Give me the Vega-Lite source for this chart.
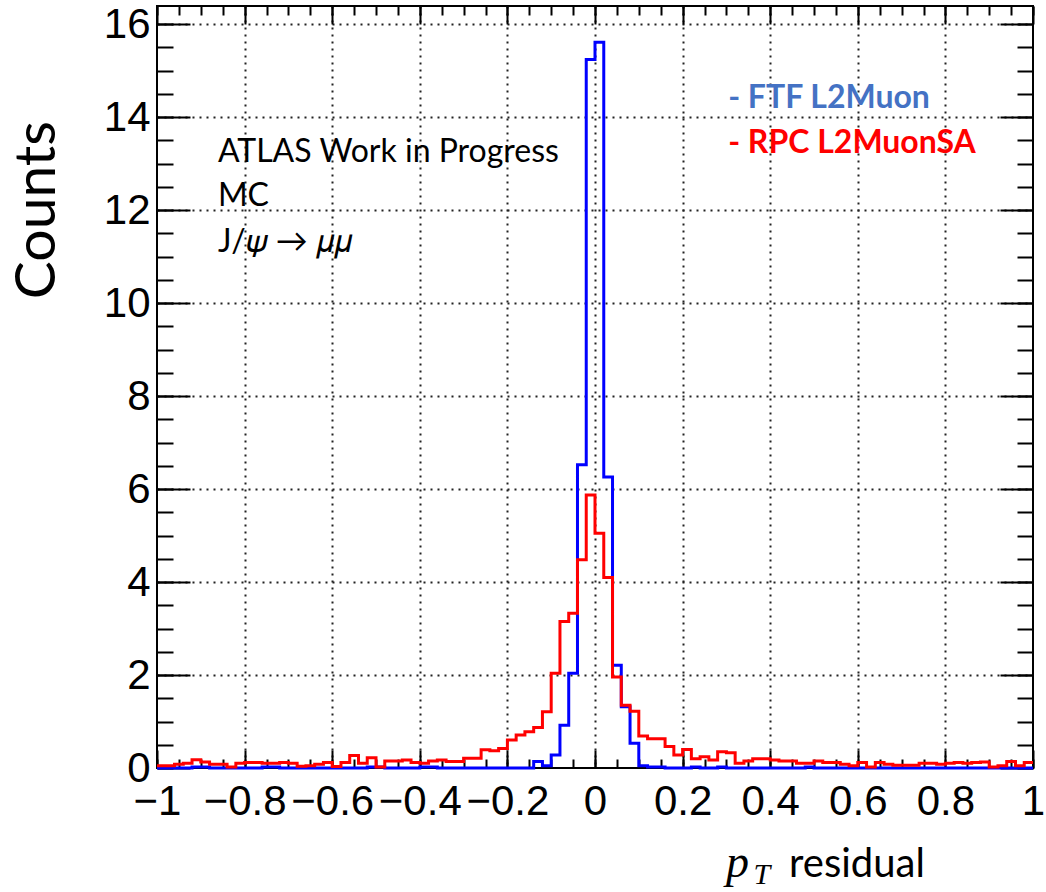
{
  "$schema": "https://vega.github.io/schema/vega-lite/v6.json",
  "width": 876,
  "height": 762,
  "autosize": {"type": "none"},
  "padding": {"left": 157, "top": 6, "right": 13, "bottom": 124},
  "background": "white",
  "config": {
    "view": {"stroke": "black", "strokeWidth": 2},
    "axis": {"domain": false, "labels": false, "grid": false, "tickColor": "black", "tickWidth": 2}
  },
  "datasets": {
    "hist": [
      {"x": -1, "ftf": 0, "rpc": 0.05}, {"x": -0.98, "ftf": 0, "rpc": 0.05}, {"x": -0.96, "ftf": 0, "rpc": 0.08}, {"x": -0.94, "ftf": 0, "rpc": 0.1}, {"x": -0.92, "ftf": 0.02, "rpc": 0.18},
      {"x": -0.9, "ftf": 0.02, "rpc": 0.13}, {"x": -0.88, "ftf": 0, "rpc": 0.08}, {"x": -0.86, "ftf": 0, "rpc": 0.08}, {"x": -0.84, "ftf": 0, "rpc": 0.02}, {"x": -0.82, "ftf": 0, "rpc": 0.1},
      {"x": -0.8, "ftf": 0, "rpc": 0.12}, {"x": -0.78, "ftf": 0, "rpc": 0.12}, {"x": -0.76, "ftf": 0.02, "rpc": 0.1}, {"x": -0.74, "ftf": 0.02, "rpc": 0.1}, {"x": -0.72, "ftf": 0, "rpc": 0.12},
      {"x": -0.7, "ftf": 0, "rpc": 0.1}, {"x": -0.68, "ftf": 0, "rpc": 0.04}, {"x": -0.66, "ftf": 0, "rpc": 0.05}, {"x": -0.64, "ftf": 0, "rpc": 0.08}, {"x": -0.62, "ftf": 0, "rpc": 0.12},
      {"x": -0.6, "ftf": 0, "rpc": 0.03}, {"x": -0.58, "ftf": 0, "rpc": 0.12}, {"x": -0.56, "ftf": 0, "rpc": 0.27}, {"x": -0.54, "ftf": 0, "rpc": 0.1}, {"x": -0.52, "ftf": 0.02, "rpc": 0.22},
      {"x": -0.5, "ftf": 0.02, "rpc": 0.02}, {"x": -0.48, "ftf": 0, "rpc": 0.15}, {"x": -0.46, "ftf": 0, "rpc": 0.15}, {"x": -0.44, "ftf": 0, "rpc": 0.17}, {"x": -0.42, "ftf": 0, "rpc": 0.12},
      {"x": -0.4, "ftf": 0.02, "rpc": 0.1}, {"x": -0.38, "ftf": 0.02, "rpc": 0.15}, {"x": -0.36, "ftf": 0, "rpc": 0.17}, {"x": -0.34, "ftf": 0, "rpc": 0.14}, {"x": -0.32, "ftf": 0, "rpc": 0.14},
      {"x": -0.3, "ftf": 0, "rpc": 0.21}, {"x": -0.28, "ftf": 0, "rpc": 0.21}, {"x": -0.26, "ftf": 0, "rpc": 0.39}, {"x": -0.24, "ftf": 0, "rpc": 0.37}, {"x": -0.22, "ftf": 0, "rpc": 0.42},
      {"x": -0.2, "ftf": 0, "rpc": 0.6}, {"x": -0.18, "ftf": 0, "rpc": 0.71}, {"x": -0.16, "ftf": 0, "rpc": 0.78}, {"x": -0.14, "ftf": 0.14, "rpc": 0.87}, {"x": -0.12, "ftf": 0.05, "rpc": 1.21},
      {"x": -0.1, "ftf": 0.28, "rpc": 2.04}, {"x": -0.08, "ftf": 0.92, "rpc": 3.15}, {"x": -0.06, "ftf": 2.04, "rpc": 3.33}, {"x": -0.04, "ftf": 6.52, "rpc": 4.48}, {"x": -0.02, "ftf": 15.24, "rpc": 5.87},
      {"x": 0, "ftf": 15.61, "rpc": 5.05}, {"x": 0.02, "ftf": 6.26, "rpc": 4.1}, {"x": 0.04, "ftf": 2.21, "rpc": 1.96}, {"x": 0.06, "ftf": 1.32, "rpc": 1.35}, {"x": 0.08, "ftf": 0.53, "rpc": 1.22},
      {"x": 0.1, "ftf": 0.05, "rpc": 0.69}, {"x": 0.12, "ftf": 0.02, "rpc": 0.63}, {"x": 0.14, "ftf": 0.02, "rpc": 0.63}, {"x": 0.16, "ftf": 0, "rpc": 0.46}, {"x": 0.18, "ftf": 0, "rpc": 0.28},
      {"x": 0.2, "ftf": 0, "rpc": 0.4}, {"x": 0.22, "ftf": 0.02, "rpc": 0.2}, {"x": 0.24, "ftf": 0, "rpc": 0.24}, {"x": 0.26, "ftf": 0, "rpc": 0.17}, {"x": 0.28, "ftf": 0.02, "rpc": 0.35},
      {"x": 0.3, "ftf": 0, "rpc": 0.33}, {"x": 0.32, "ftf": 0, "rpc": 0.1}, {"x": 0.34, "ftf": 0, "rpc": 0.15}, {"x": 0.36, "ftf": 0, "rpc": 0.2}, {"x": 0.38, "ftf": 0, "rpc": 0.2},
      {"x": 0.4, "ftf": 0, "rpc": 0.17}, {"x": 0.42, "ftf": 0, "rpc": 0.15}, {"x": 0.44, "ftf": 0, "rpc": 0.15}, {"x": 0.46, "ftf": 0, "rpc": 0.1}, {"x": 0.48, "ftf": 0.02, "rpc": 0.1},
      {"x": 0.5, "ftf": 0, "rpc": 0.15}, {"x": 0.52, "ftf": 0, "rpc": 0.12}, {"x": 0.54, "ftf": 0, "rpc": 0.12}, {"x": 0.56, "ftf": 0, "rpc": 0.08}, {"x": 0.58, "ftf": 0, "rpc": 0.05},
      {"x": 0.6, "ftf": 0, "rpc": 0.12}, {"x": 0.62, "ftf": 0, "rpc": 0.02}, {"x": 0.64, "ftf": 0, "rpc": 0.12}, {"x": 0.66, "ftf": 0, "rpc": 0.08}, {"x": 0.68, "ftf": 0, "rpc": 0.06},
      {"x": 0.7, "ftf": 0, "rpc": 0.06}, {"x": 0.72, "ftf": 0, "rpc": 0.06}, {"x": 0.74, "ftf": 0, "rpc": 0.1}, {"x": 0.76, "ftf": 0, "rpc": 0.1}, {"x": 0.78, "ftf": 0, "rpc": 0.08},
      {"x": 0.8, "ftf": 0, "rpc": 0.1}, {"x": 0.82, "ftf": 0, "rpc": 0.12}, {"x": 0.84, "ftf": 0, "rpc": 0.1}, {"x": 0.86, "ftf": 0, "rpc": 0.12}, {"x": 0.88, "ftf": 0, "rpc": 0.13},
      {"x": 0.9, "ftf": 0, "rpc": 0.02}, {"x": 0.92, "ftf": 0, "rpc": 0.05}, {"x": 0.94, "ftf": 0, "rpc": 0.14}, {"x": 0.96, "ftf": 0, "rpc": 0.05}, {"x": 0.98, "ftf": 0, "rpc": 0.12},
      {"x": 1, "ftf": 0, "rpc": 0.12}
    ],
    "ann": [
      {"t": "ATLAS Work in Progress", "x": -0.861, "y": 13.25},
      {"t": "MC", "x": -0.861, "y": 12.3},
      {"t": "J/𝜓 → 𝜇𝜇", "x": -0.861, "y": 11.31}
    ],
    "leg": [
      {"t": "- FTF L2Muon", "c": "FTF", "x": 0.304, "y": 14.41},
      {"t": "- RPC L2MuonSA", "c": "RPC", "x": 0.304, "y": 13.44}
    ],
    "ytitle": [{"t": "Counts", "x": -1.272, "y": 12.0}],
    "xt1": [{"t": "p", "x": 0.299, "y": -2.344}],
    "xt2": [{"t": "T", "x": 0.362, "y": -2.5}],
    "xt3": [{"t": "residual", "x": 0.443, "y": -2.344}]
  },
  "resolve": {"axis": {"x": "independent", "y": "independent"}},
  "layer": [
    {
      "data": {"name": "hist"},
      "mark": {"type": "line", "interpolate": "step-after", "color": "#0000ff", "strokeWidth": 3},
      "encoding": {
        "x": {"field": "x", "type": "quantitative", "scale": {"domain": [-1, 1], "nice": false, "zero": false},
          "axis": {"orient": "bottom", "title": null, "values": [-1, -0.8, -0.6, -0.4, -0.2, 0, 0.2, 0.4, 0.6, 0.8, 1], "format": "~g",
            "labels": true, "labelFont": "Liberation Sans", "labelFontSize": 42, "labelColor": "black", "labelPadding": 13,
            "labelOverlap": false, "labelFlush": false, "labelBound": false, "ticks": false, "domain": false,
            "grid": true, "gridDash": [2, 5], "gridColor": "#222", "gridWidth": 2,
            "gridOpacity": {"condition": {"test": "abs(datum.value) > 0.99", "value": 0}, "value": 1}}},
        "y": {"field": "ftf", "type": "quantitative", "scale": {"domain": [0, 16.39], "nice": false, "zero": false},
          "axis": {"orient": "left", "title": null, "values": [0, 2, 4, 6, 8, 10, 12, 14, 16], "format": "~g",
            "labels": true, "labelFont": "Liberation Sans", "labelFontSize": 42, "labelColor": "black", "labelPadding": 7,
            "labelOverlap": false, "labelFlush": false, "labelBound": false, "ticks": false, "domain": false,
            "grid": true, "gridDash": [2, 5], "gridColor": "#222", "gridWidth": 2,
            "gridOpacity": {"condition": {"test": "datum.value < 0.01", "value": 0}, "value": 1}}}
      }
    },
    {
      "data": {"name": "hist"},
      "mark": {"type": "line", "interpolate": "step-after", "color": "#ff0000", "strokeWidth": 3},
      "encoding": {
        "x": {"field": "x", "type": "quantitative", "scale": {"domain": [-1, 1], "nice": false, "zero": false},
          "axis": {"orient": "bottom", "title": null, "values": [-1, -0.8, -0.6, -0.4, -0.2, 0, 0.2, 0.4, 0.6, 0.8, 1],
            "labels": false, "grid": false, "domain": false, "ticks": true, "offset": -18, "tickSize": 18}},
        "y": {"field": "rpc", "type": "quantitative", "scale": {"domain": [0, 16.39], "nice": false, "zero": false},
          "axis": {"orient": "left", "title": null, "values": [0, 2, 4, 6, 8, 10, 12, 14, 16],
            "labels": false, "grid": false, "domain": false, "ticks": true, "offset": -33, "tickSize": 33}}
      }
    },
    {
      "data": {"name": "ann"},
      "mark": {"type": "text", "align": "left", "baseline": "middle", "font": "Lato", "fontSize": 32, "color": "black"},
      "encoding": {
        "text": {"field": "t"},
        "x": {"field": "x", "type": "quantitative", "scale": {"domain": [-1, 1], "nice": false, "zero": false},
          "axis": {"orient": "bottom", "title": null, "values": [-1, -0.95, -0.9, -0.85, -0.8, -0.75, -0.7, -0.65, -0.6, -0.55, -0.5, -0.45, -0.4, -0.35, -0.3, -0.25, -0.2, -0.15, -0.1, -0.05, 0, 0.05, 0.1, 0.15, 0.2, 0.25, 0.3, 0.35, 0.4, 0.45, 0.5, 0.55, 0.6, 0.65, 0.7, 0.75, 0.8, 0.85, 0.9, 0.95, 1],
            "labels": false, "grid": false, "domain": false, "ticks": true, "offset": -9, "tickSize": 9}},
        "y": {"field": "y", "type": "quantitative", "scale": {"domain": [0, 16.39], "nice": false, "zero": false},
          "axis": {"orient": "left", "title": null, "values": [0, 0.5, 1, 1.5, 2, 2.5, 3, 3.5, 4, 4.5, 5, 5.5, 6, 6.5, 7, 7.5, 8, 8.5, 9, 9.5, 10, 10.5, 11, 11.5, 12, 12.5, 13, 13.5, 14, 14.5, 15, 15.5, 16],
            "labels": false, "grid": false, "domain": false, "ticks": true, "offset": -16, "tickSize": 16}}
      }
    },
    {
      "data": {"name": "leg"},
      "mark": {"type": "text", "align": "left", "baseline": "middle", "font": "Lato", "fontSize": 32, "fontWeight": "bold"},
      "encoding": {
        "text": {"field": "t"},
        "color": {"field": "c", "type": "nominal", "scale": {"domain": ["FTF", "RPC"], "range": ["#4472C4", "#FF0000"]}, "legend": null},
        "x": {"field": "x", "type": "quantitative", "scale": {"domain": [-1, 1], "nice": false, "zero": false},
          "axis": {"orient": "top", "title": null, "values": [-1, -0.8, -0.6, -0.4, -0.2, 0, 0.2, 0.4, 0.6, 0.8, 1],
            "labels": false, "grid": false, "domain": false, "ticks": true, "offset": -18, "tickSize": 18}},
        "y": {"field": "y", "type": "quantitative", "scale": {"domain": [0, 16.39], "nice": false, "zero": false},
          "axis": {"orient": "right", "title": null, "values": [0, 2, 4, 6, 8, 10, 12, 14, 16],
            "labels": false, "grid": false, "domain": false, "ticks": true, "offset": -33, "tickSize": 33}}
      }
    },
    {
      "data": {"name": "ytitle"},
      "mark": {"type": "text", "align": "center", "baseline": "middle", "angle": 270, "font": "Lato", "fontSize": 57, "color": "black"},
      "encoding": {
        "text": {"field": "t"},
        "x": {"field": "x", "type": "quantitative", "scale": {"domain": [-1, 1], "nice": false, "zero": false},
          "axis": {"orient": "top", "title": null, "values": [-1, -0.95, -0.9, -0.85, -0.8, -0.75, -0.7, -0.65, -0.6, -0.55, -0.5, -0.45, -0.4, -0.35, -0.3, -0.25, -0.2, -0.15, -0.1, -0.05, 0, 0.05, 0.1, 0.15, 0.2, 0.25, 0.3, 0.35, 0.4, 0.45, 0.5, 0.55, 0.6, 0.65, 0.7, 0.75, 0.8, 0.85, 0.9, 0.95, 1],
            "labels": false, "grid": false, "domain": false, "ticks": true, "offset": -9, "tickSize": 9}},
        "y": {"field": "y", "type": "quantitative", "scale": {"domain": [0, 16.39], "nice": false, "zero": false},
          "axis": {"orient": "right", "title": null, "values": [0, 0.5, 1, 1.5, 2, 2.5, 3, 3.5, 4, 4.5, 5, 5.5, 6, 6.5, 7, 7.5, 8, 8.5, 9, 9.5, 10, 10.5, 11, 11.5, 12, 12.5, 13, 13.5, 14, 14.5, 15, 15.5, 16],
            "labels": false, "grid": false, "domain": false, "ticks": true, "offset": -16, "tickSize": 16}}
      }
    },
    {
      "data": {"name": "xt1"},
      "mark": {"type": "text", "align": "left", "baseline": "alphabetic", "font": "Liberation Serif", "fontStyle": "italic", "fontSize": 46, "color": "black"},
      "encoding": {
        "text": {"field": "t"},
        "x": {"field": "x", "type": "quantitative", "scale": {"domain": [-1, 1], "nice": false, "zero": false}, "axis": null},
        "y": {"field": "y", "type": "quantitative", "scale": {"domain": [0, 16.39], "nice": false, "zero": false}, "axis": null}
      }
    },
    {
      "data": {"name": "xt2"},
      "mark": {"type": "text", "align": "left", "baseline": "alphabetic", "font": "Liberation Serif", "fontStyle": "italic", "fontSize": 30, "color": "black"},
      "encoding": {
        "text": {"field": "t"},
        "x": {"field": "x", "type": "quantitative", "scale": {"domain": [-1, 1], "nice": false, "zero": false}, "axis": null},
        "y": {"field": "y", "type": "quantitative", "scale": {"domain": [0, 16.39], "nice": false, "zero": false}, "axis": null}
      }
    },
    {
      "data": {"name": "xt3"},
      "mark": {"type": "text", "align": "left", "baseline": "alphabetic", "font": "Lato", "fontSize": 40, "color": "black"},
      "encoding": {
        "text": {"field": "t"},
        "x": {"field": "x", "type": "quantitative", "scale": {"domain": [-1, 1], "nice": false, "zero": false}, "axis": null},
        "y": {"field": "y", "type": "quantitative", "scale": {"domain": [0, 16.39], "nice": false, "zero": false}, "axis": null}
      }
    }
  ]
}
